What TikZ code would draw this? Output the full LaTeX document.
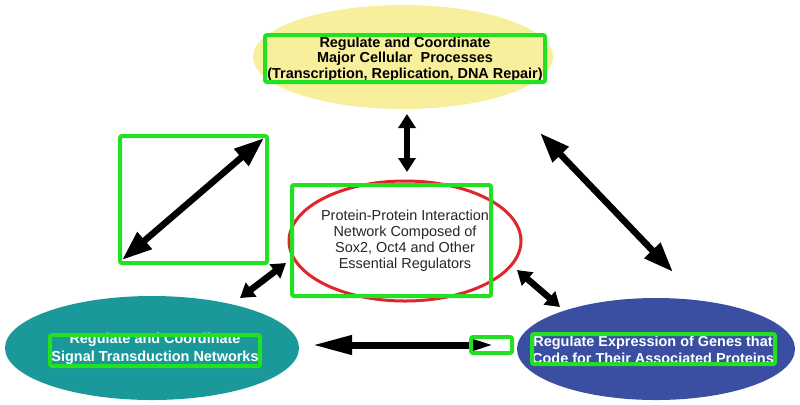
\documentclass[tikz,border=0pt]{standalone}
\usepackage{fontspec}
\setmainfont{Liberation Sans}
\usetikzlibrary{shapes.geometric,arrows.meta}
\definecolor{topfill}{HTML}{F7EF9B}
\definecolor{netred}{HTML}{E0262A}
\definecolor{signalfill}{HTML}{1A989A}
\definecolor{genesfill}{HTML}{3A4EA2}
\definecolor{markgreen}{HTML}{22E022}
\tikzset{
  blob/.style={ellipse, inner sep=0pt},
  blobtext/.style={align=center, inner sep=0pt},
  markbox/.style={draw=markgreen, line width=4bp, rounded corners=2bp},
  bigarrow/.style={line width=6.5bp,
    {Triangle[length=30bp,width=21bp]}-{Triangle[length=30bp,width=21bp]}},
  smallarrow/.style={line width=6.5bp,
    {Triangle[length=14bp,width=17bp]}-{Triangle[length=14bp,width=17bp]}},
}
\begin{document}
\begin{tikzpicture}[x=1bp,y=-1bp]
  \useasboundingbox (0,0) rectangle (800,404);
  % the four blobs
  \node[blob, fill=topfill, minimum width=300bp, minimum height=104bp] (top) at (403,57) {};
  \node[blobtext, font=\bfseries\fontsize{14.5}{15.5}\selectfont] (toptext) at (405,59)
        {Regulate and Coordinate\\Major Cellular\ \ Processes\\(Transcription, Replication, DNA Repair)};
  \node[blob, draw=netred, line width=3bp, fill=white, minimum width=232bp, minimum height=120bp] (net) at (405,241) {};
  \node[blobtext, text=black!85, font=\fontsize{14.5}{16}\selectfont] (nettext) at (405,241)
        {Protein-Protein Interaction\\Network Composed of\\Sox2, Oct4 and Other\\Essential Regulators};
  \node[blob, fill=signalfill, minimum width=294bp, minimum height=104bp] (signal) at (152,348) {};
  \node[blobtext, text=white, font=\bfseries\fontsize{14.5}{17.5}\selectfont] (signaltext) at (155,349)
        {Regulate and Coordinate\\Signal Transduction Networks};
  \node[blob, fill=genesfill, minimum width=278bp, minimum height=102bp] (genes) at (656,349) {};
  \node[blobtext, text=white, font=\bfseries\fontsize{14.5}{17}\selectfont] (genestext) at (653,350)
        {Regulate Expression of Genes that\\Code for Their Associated Proteins};

  % arrows
  \coordinate (la) at (122,260);
  \coordinate (lb) at (264,138);
  \coordinate (ra) at (540,133);
  \coordinate (rb) at (673,272);
  \coordinate (sa) at (240,298);
  \coordinate (sb) at (286,263);
  \coordinate (ta) at (517,270);
  \coordinate (tb) at (560,307);
  \coordinate (ba) at (312,345);
  \coordinate (bb) at (510,345);
  \coordinate (va) at (407,114);
  \coordinate (vb) at (407,172);
  \draw[smallarrow] (va) -- (vb);
  \draw[bigarrow] (la) -- (lb);
  \draw[bigarrow] (ra) -- (rb);
  \draw[smallarrow] (sa) -- (sb);
  \draw[smallarrow] (ta) -- (tb);
  \draw[line width=7bp,
    {Triangle[length=40bp,width=18bp]}-{Triangle[length=38bp,width=9bp]}] (ba) -- (bb);

  % green marks
  \draw[markbox] (265,35) rectangle (545,82);
  \draw[markbox] (120,136) rectangle (267,263);
  \draw[markbox] (292,185) rectangle (491,296);
  \draw[markbox] (50,335) rectangle (260,366);
  \draw[markbox] (471,337) rectangle (512,353);
  \draw[markbox] (532,334) rectangle (775,364);
\end{tikzpicture}
\end{document}
